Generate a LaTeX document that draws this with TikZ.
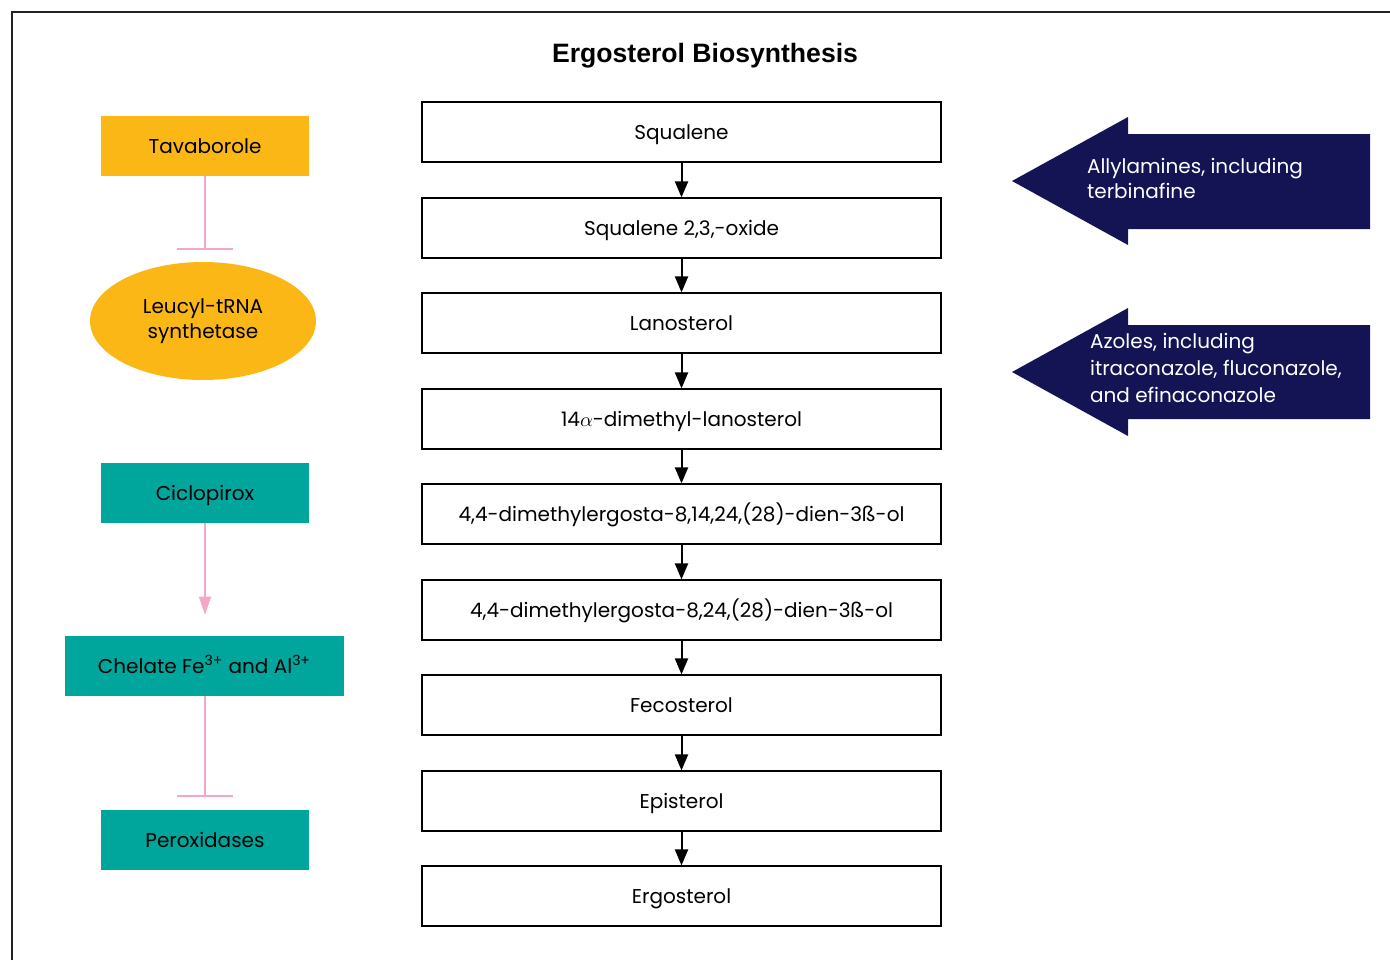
\documentclass[tikz,border=0pt]{standalone}
\usepackage{fontspec}
\setmainfont{Poppins}
\newfontfamily\titlefont{Liberation Sans}
\usetikzlibrary{arrows.meta,shapes.geometric}
\definecolor{drugorange}{HTML}{FBB715}
\definecolor{drugteal}{HTML}{00A69C}
\definecolor{drugnavy}{HTML}{141455}
\definecolor{linkpink}{HTML}{F4A7C8}
\definecolor{framegray}{HTML}{222222}

\begin{document}
\begin{tikzpicture}[x=0.5pt, y=-0.5pt,
    pathbox/.style={draw=black, line width=0.6pt, minimum width=259.5pt, minimum height=30pt, inner sep=0pt, text height=7pt, text depth=0pt, font=\fontsize{10}{12}\selectfont},
    orangebox/.style={fill=drugorange, minimum width=104pt, minimum height=30pt, inner sep=0pt, text height=7pt, text depth=0pt, font=\fontsize{10}{12}\selectfont},
    tealbox/.style={fill=drugteal, minimum width=104pt, minimum height=30pt, inner sep=0pt, text height=7pt, text depth=0pt, font=\fontsize{10}{12}\selectfont},
    stepline/.style={-{Triangle[width=6.5pt, length=8pt]}, line width=1pt},
    inhibit/.style={-{Bar[width=28pt]}, draw=linkpink, line width=1pt},
    promote/.style={-{Triangle[width=6pt, length=9pt]}, draw=linkpink, line width=1pt}]
    \useasboundingbox (0,0) rectangle (1390,960);

    % frame
    \draw[framegray, line width=0.7pt] (12,960) -- (12,12) -- (1390,12);

    % title
    \node[font=\titlefont\bfseries\fontsize{13.3}{16}\selectfont] (title) at (705,56) {Ergosterol Biosynthesis};

    % biosynthesis pathway
    \node[pathbox] (squalene) at (681.5,132) {Squalene};
    \node[pathbox] (oxide) at (681.5,228) {Squalene 2,3,-oxide};
    \node[pathbox] (lano) at (681.5,323) {Lanosterol};
    \node[pathbox] (dimethyl) at (681.5,419) {14$\alpha$-dimethyl-lanosterol};
    \node[pathbox] (ergostaA) at (681.5,514) {4,4-dimethylergosta-8,14,24,(28)-dien-3ß-ol};
    \node[pathbox] (ergostaB) at (681.5,610) {4,4-dimethylergosta-8,24,(28)-dien-3ß-ol};
    \node[pathbox] (feco) at (681.5,705) {Fecosterol};
    \node[pathbox] (epi) at (681.5,801) {Episterol};
    \node[pathbox] (ergo) at (681.5,896) {Ergosterol};

    \draw[stepline] (squalene) -- (oxide);
    \draw[stepline] (oxide) -- (lano);
    \draw[stepline] (lano) -- (dimethyl);
    \draw[stepline] (dimethyl) -- (ergostaA);
    \draw[stepline] (ergostaA) -- (ergostaB);
    \draw[stepline] (ergostaB) -- (feco);
    \draw[stepline] (feco) -- (epi);
    \draw[stepline] (epi) -- (ergo);

    % tavaborole
    \node[orangebox] (tava) at (205,146) {Tavaborole};
    \node[ellipse, fill=drugorange, minimum width=113pt, minimum height=59pt, inner sep=0pt, align=center, font=\fontsize{10}{12.5}\selectfont] (leucyl) at (203,321) {Leucyl-tRNA\\synthetase};
    \draw[inhibit, shorten >=6pt] (tava) -- (tava |- leucyl.north);

    % ciclopirox
    \node[tealbox] (ciclo) at (205,493) {Ciclopirox};
    \node[tealbox, minimum width=139.5pt] (chelate) at (204.5,666) {Chelate Fe\textsuperscript{3+} and Al\textsuperscript{3+}};
    \node[tealbox] (perox) at (205,840) {Peroxidases};
    \draw[promote, shorten >=10.5pt] (ciclo) -- (ciclo |- chelate.north);
    \draw[inhibit, shorten >=6.5pt] (chelate.south -| ciclo) -- (ciclo |- perox.north);

    % drug classes acting on the pathway
    \fill[drugnavy] (1370,134) -- (1128,134) -- (1128,117) -- (1012,181) -- (1128,245) -- (1128,229) -- (1370,229) -- cycle;
    \node[anchor=west, align=left, text=white, font=\fontsize{10}{12.5}\selectfont] (allyl) at (1080,178) {Allylamines, including\\terbinafine};
    \fill[drugnavy] (1370,325) -- (1128,325) -- (1128,308) -- (1012,372) -- (1128,436) -- (1128,419) -- (1370,419) -- cycle;
    \node[anchor=west, align=left, text=white, font=\fontsize{10}{13.3}\selectfont] (azoles) at (1083,368) {Azoles, including\\itraconazole, fluconazole,\\and efinaconazole};
\end{tikzpicture}
\end{document}
